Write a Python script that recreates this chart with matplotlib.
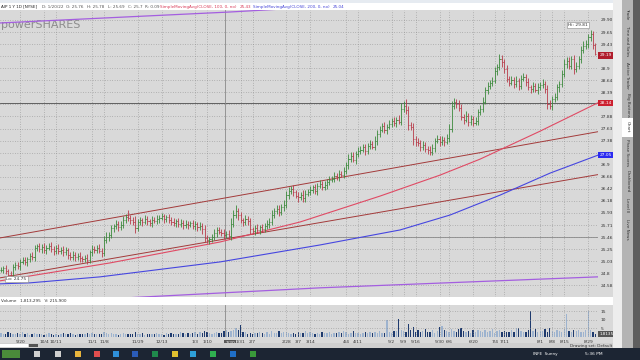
import numpy as np
import matplotlib.pyplot as plt
from matplotlib.patches import Rectangle
from matplotlib.collections import LineCollection

W, H = 640, 360

# ---- daily bars (9/8/21 .. 9/1/22) ----
closes = [
    24.89, 24.92, 24.86, 24.78, 24.76, 24.95, 24.98, 24.97, 25.05, 25.08,
    25.04, 25.10, 25.17, 25.15, 25.33, 25.36, 25.30, 25.34, 25.28, 25.33,
    25.37, 25.31, 25.27, 25.32, 25.26, 25.29, 25.24, 25.28, 25.18, 25.15,
    25.19, 25.14, 25.16, 25.12, 25.10, 25.13, 25.09, 25.24, 25.31, 25.28,
    25.33, 25.27, 25.23, 25.48, 25.55, 25.58, 25.72, 25.76, 25.80, 25.74,
    25.79, 25.88, 25.95, 25.93, 25.89, 25.85, 25.72, 25.84, 25.88, 25.85,
    25.90, 25.86, 25.83, 25.89, 25.87, 25.90, 25.93, 25.96, 25.91, 25.94,
    25.89, 25.84, 25.82, 25.86, 25.80, 25.83, 25.78, 25.81, 25.79, 25.82,
    25.76, 25.80, 25.74, 25.77, 25.70, 25.52, 25.48, 25.50, 25.55, 25.62,
    25.68, 25.65, 25.63, 25.58, 25.61, 25.56, 25.80, 26.00, 26.08, 25.98,
    25.88, 25.84, 25.90, 25.86, 25.70, 25.66, 25.72, 25.68, 25.74, 25.71,
    25.76, 25.80, 25.85, 26.00, 26.08, 26.12, 26.05, 26.15, 26.20, 26.40,
    26.48, 26.52, 26.45, 26.38, 26.35, 26.40, 26.33, 26.42, 26.46, 26.50,
    26.55, 26.48, 26.58, 26.62, 26.56, 26.60, 26.66, 26.70, 26.72, 26.78,
    26.75, 26.82, 26.80, 26.88, 27.00, 27.12, 27.18, 27.10, 27.22, 27.28,
    27.30, 27.35, 27.28, 27.38, 27.42, 27.36, 27.48, 27.62, 27.70, 27.78,
    27.70, 27.76, 27.82, 27.88, 27.84, 27.90, 27.86, 28.12, 28.18, 28.10,
    27.80, 27.76, 27.52, 27.45, 27.44, 27.36, 27.40, 27.32, 27.30, 27.26,
    27.34, 27.48, 27.52, 27.45, 27.50, 27.46, 27.54, 27.72, 28.18, 28.26,
    28.22, 28.14, 27.96, 27.90, 27.98, 27.86, 27.92, 27.84, 27.88, 28.05,
    28.12, 28.26, 28.50, 28.58, 28.64, 28.68, 28.88, 28.96, 29.12, 29.05,
    28.92, 28.72, 28.64, 28.70, 28.62, 28.68, 28.58, 28.72, 28.76, 28.66,
    28.55, 28.52, 28.58, 28.50, 28.56, 28.60, 28.62, 28.52, 28.22, 28.18,
    28.32, 28.36, 28.55, 28.62, 28.82, 29.02, 29.08, 28.98, 29.12, 28.92,
    28.98, 29.12, 29.30, 29.38, 29.42, 29.55, 29.62, 29.40, 29.22,
]
# wick above / below the open-close body, in cents
wick_hi = [
    6, 5, 7, 4, 8, 5, 6, 7, 5, 6, 7, 5, 6, 8, 6, 5, 7, 6, 8, 5,
    6, 7, 5, 6, 8, 5, 7, 6, 5, 6, 7, 5, 6, 8, 5, 6, 7, 5, 8, 6,
    5, 7, 6, 8, 9, 6, 7, 5, 8, 6, 7, 9, 6, 15, 7, 5, 12, 6, 7, 5,
    8, 6, 5, 7, 6, 8, 5, 7, 6, 5, 7, 6, 8, 5, 6, 7, 5, 8, 6, 5,
    7, 6, 5, 8, 6, 9, 7, 5, 6, 8, 6, 7, 5, 8, 6, 7, 12, 9, 11, 6,
    7, 5, 8, 6, 7, 5, 6, 8, 5, 7, 6, 8, 7, 9, 6, 8, 7, 6, 9, 8,
    7, 6, 8, 5, 7, 6, 9, 7, 6, 8, 5, 7, 6, 8, 6, 7, 5, 8, 6, 7,
    6, 8, 5, 7, 6, 9, 7, 8, 6, 7, 8, 6, 7, 5, 8, 6, 9, 7, 8, 6,
    7, 5, 8, 6, 7, 5, 9, 12, 10, 14, 8, 6, 7, 5, 8, 6, 7, 5, 6, 8,
    7, 5, 8, 6, 7, 5, 8, 10, 9, 8, 6, 7, 8, 5, 9, 6, 7, 5, 8, 6,
    7, 9, 6, 8, 5, 7, 8, 6, 10, 7, 6, 8, 5, 7, 6, 9, 5, 8, 7, 6,
    7, 5, 8, 6, 7, 5, 9, 6, 8, 7, 6, 8, 7, 5, 8, 9, 7, 8, 6, 7,
    8, 6, 7, 9, 8, 7, 8, 6, 3,
]
wick_lo = [
    5, 7, 6, 8, 6, 5, 7, 6, 8, 5, 6, 7, 5, 6, 9, 6, 5, 8, 6, 7,
    5, 6, 8, 7, 5, 6, 7, 5, 8, 6, 6, 8, 5, 7, 6, 5, 8, 6, 7, 5,
    6, 5, 8, 7, 6, 9, 5, 7, 6, 8, 6, 7, 5, 6, 8, 7, 10, 5, 6, 8,
    5, 7, 6, 8, 5, 6, 7, 5, 8, 6, 7, 5, 6, 8, 6, 5, 7, 6, 8, 5,
    6, 8, 7, 5, 9, 8, 6, 7, 5, 6, 7, 5, 6, 8, 6, 5, 7, 6, 8, 9,
    6, 8, 5, 7, 9, 6, 7, 5, 8, 6, 7, 5, 8, 6, 7, 6, 8, 5, 7, 6,
    8, 6, 7, 5, 9, 6, 7, 8, 5, 6, 7, 6, 8, 5, 7, 6, 8, 6, 5, 7,
    6, 8, 5, 7, 6, 9, 7, 5, 8, 6, 7, 5, 8, 6, 7, 5, 6, 8, 7, 5,
    6, 8, 5, 7, 6, 8, 5, 7, 6, 9, 10, 7, 12, 8, 6, 9, 7, 6, 8, 7,
    6, 8, 5, 7, 6, 8, 5, 9, 7, 6, 8, 6, 7, 9, 5, 8, 6, 7, 5, 8,
    6, 7, 5, 8, 6, 7, 5, 8, 6, 9, 8, 6, 7, 5, 8, 6, 9, 7, 5, 8,
    6, 8, 7, 5, 9, 6, 7, 8, 10, 7, 8, 6, 7, 9, 6, 7, 8, 6, 7, 10,
    7, 6, 8, 7, 6, 8, 7, 9, 2,
]
# volume, in hundred-thousands
volume = [
    2.5, 1.8, 2.0, 3.2, 2.4, 1.6, 1.9, 2.2, 1.5, 2.8,
    1.7, 2.1, 1.4, 1.9, 2.6, 1.8, 1.5, 2.0, 1.3, 1.7,
    2.3, 1.6, 1.4, 1.9, 1.2, 1.8, 2.1, 1.5, 1.7, 2.4,
    1.6, 1.3, 1.8, 2.0, 1.5, 1.7, 2.2, 1.9, 2.6, 1.8,
    1.5, 2.0, 1.7, 2.9, 2.4, 1.8, 2.2, 1.6, 1.9, 1.4,
    1.7, 2.3, 2.0, 1.6, 1.8, 1.5, 2.7, 1.9, 1.6, 2.1,
    1.4, 1.8, 2.0, 1.5, 1.7, 2.3, 1.6, 1.9, 1.4, 2.2,
    1.8, 2.5, 1.6, 2.0, 1.7, 2.9, 2.2, 1.8, 2.4, 1.9,
    2.6, 3.1, 2.0, 2.8, 2.3, 3.4, 2.7, 2.1, 1.8, 2.5,
    3.0, 2.2, 2.6, 3.5, 4.0, 2.8, 3.8, 4.1, 5.2, 4.1,
    6.8, 3.2, 2.9, 2.0, 2.4, 1.8, 2.6, 2.1, 3.0, 2.3,
    2.0, 2.7, 1.9, 3.3, 2.5, 2.2, 3.6, 2.4, 2.8, 3.1,
    2.6, 2.0, 2.4, 1.8, 2.9, 2.2, 2.5, 3.4, 2.1, 2.7,
    2.3, 1.9, 2.6, 2.0, 3.0, 2.4, 2.1, 2.8, 1.9, 2.5,
    2.2, 2.9, 2.4, 3.3, 2.7, 2.0, 2.5, 3.8, 2.3, 2.6,
    2.0, 2.4, 2.8, 2.2, 3.1, 2.5, 2.9, 2.3, 3.4, 2.6,
    2.1, 10.2, 3.0, 2.4, 3.3, 3.6, 10.5, 4.2, 3.5, 2.8,
    7.5, 3.9, 5.6, 3.2, 4.4, 2.8, 3.6, 4.8, 3.1, 2.7,
    3.9, 2.5, 3.3, 5.8, 6.2, 4.0, 3.4, 2.9, 4.6, 3.8,
    2.7, 4.9, 5.5, 3.6, 2.8, 3.3, 2.5, 3.9, 3.0, 4.2,
    3.5, 2.9, 4.4, 3.1, 3.8, 4.7, 2.6, 3.3, 4.0, 2.9,
    3.6, 3.0, 2.7, 4.3, 3.2, 5.0, 5.4, 3.7, 2.8, 3.1,
    4.1, 15.0, 3.4, 4.5, 2.9, 3.8, 3.3, 4.6, 3.0, 5.1,
    3.7, 2.8, 4.2, 3.5, 3.0, 4.8, 13.8, 3.6, 2.9, 4.0,
    3.4, 4.4, 3.1, 2.8, 3.9, 15.2, 4.2, 3.0, 1.8,
]

week_idx = [8, 18, 23, 38, 43, 57, 67, 81, 86, 100, 105, 119, 124, 129, 144,
            149, 163, 168, 173, 183, 187, 197, 206, 210, 225, 230, 235, 245]
week_lbl = ['9/20', '10/4', '10/11', '11/1', '11/8', '11/29', '12/13', '1/3',
            '1/10', '1/31', '2/7', '2/28', '3/7', '3/14', '4/4', '4/11', '5/2',
            '5/9', '5/16', '5/30', '6/6', '6/20', '7/4', '7/11', '8/1', '8/8',
            '8/15', '8/29']

# scale labels; blanks sit under the value bubbles
price_lbl = ['29.90', '29.65', '29.43', '', '28.9', '28.64', '28.39', '',
             '27.88', '27.63', '27.38', '', '26.9', '26.66', '26.42', '26.18',
             '25.93', '25.71', '25.46', '25.25', '25.03', '24.8', '24.58']

# study lines (bar index, price)
sma100_x = [-0.4, 45.6, 91.5, 124.8, 158.2, 183.2, 199.9, 224.9, 249.1]
sma100_y = [24.67, 25.03, 25.45, 25.85, 26.37, 26.79, 27.11, 27.67, 28.24]
sma200_x = [-0.4, 12.2, 41.4, 91.5, 133.2, 166.5, 187.4, 208.3, 229.1, 249.1]
sma200_y = [24.61, 24.63, 24.75, 25.05, 25.39, 25.69, 25.99, 26.39, 26.83, 27.19]
purple_hi_x = [-0.4, 95.6, 124.8]
purple_hi_y = [29.84, 30.06, 30.14]
purple_lo_x = [-0.4, 61.0, 133.2, 249.1]
purple_lo_y = [24.20, 24.35, 24.53, 24.75]
trend_up_x, trend_up_y = [-0.4, 249.1], [25.53, 27.66]
trend_lo_x, trend_lo_y = [-0.4, 249.1], [24.73, 26.80]
level_line = 28.236
cross_idx, cross_price = 93.5, 25.55

# ---- figure ----
fig = plt.figure(figsize=(6.4, 3.6), dpi=100, facecolor='#d9d9d9')


def frect(x, y, w, h, color, z=0):
    fig.patches.append(Rectangle((x / W, 1 - (y + h) / H), w / W, h / H,
                                 transform=fig.transFigure, color=color,
                                 zorder=z, lw=0))


def ftext(x, y, s, **kw):
    fig.text(x / W, 1 - y / H, s, **kw)


def pane(x0, y0, x1, y1):
    a = fig.add_axes([x0 / W, 1 - y1 / H, (x1 - x0) / W, (y1 - y0) / H])
    a.set_facecolor('#d9d9d9')
    for s in a.spines.values():
        s.set_visible(False)
    return a


n = len(closes)
idx = np.arange(n)
c = np.array(closes)
o = np.r_[c[0], c[:-1]]           # open tick at prior close
hi = np.maximum(o, c) + np.array(wick_hi) / 100
lo = np.minimum(o, c) - np.array(wick_lo) / 100
up = c >= o
UPC, DNC = '#3c8a3c', '#b83c4a'

ax = pane(0, 10, 598, 297)
ax.set_xlim(-0.4, 249.1)
ax.set_ylim(24.346, 30.10)
ax.set_xticks(week_idx)
ax.set_xticklabels([])
ax.set_yticks(np.linspace(29.90, 24.58, len(price_lbl)))
ax.set_yticklabels(price_lbl)
ax.yaxis.tick_right()
ax.tick_params(length=0, labelsize=3.2, labelcolor='#333333', pad=2)
ax.grid(True, ls=(0, (1, 2.5)), color='#8c8c8c', lw=0.5)

segs, cols = [], []
for i in range(n):
    col = UPC if up[i] else DNC
    segs += [[(i, lo[i]), (i, hi[i])], [(i - 0.45, o[i]), (i, o[i])],
             [(i, c[i]), (i + 0.45, c[i])]]
    cols += [col] * 3
ax.add_collection(LineCollection(segs, colors=cols, lw=0.6, zorder=4))

ax.plot(purple_hi_x, purple_hi_y, color='#a45ee0', lw=0.9, zorder=3)
ax.plot(purple_lo_x, purple_lo_y, color='#a45ee0', lw=0.9, zorder=3)
ax.plot(trend_up_x, trend_up_y, color='#a33a3a', lw=0.7, zorder=3)
ax.plot(trend_lo_x, trend_lo_y, color='#a33a3a', lw=0.7, zorder=3)
ax.plot(sma100_x, sma100_y, color='#e04a64', lw=0.8, zorder=3)
ax.plot(sma200_x, sma200_y, color='#4646e0', lw=0.8, zorder=3)
ax.axhline(level_line, color='#4d4d4d', lw=0.6, zorder=2)
ax.axhline(cross_price, color='#8a8a8a', lw=0.6, zorder=2)
ax.axvline(cross_idx, color='#8a8a8a', lw=0.6, zorder=2)

# value bubbles on the price scale
for val, txt, bg in [(29.19, '29.19', '#b01c2c'), (level_line, '28.14', '#cc1f2f'),
                     (27.19, '27.05', '#2b2bf0')]:
    ax.text(1.002, val, txt, transform=ax.get_yaxis_transform(), fontsize=3.2,
            color='white', va='center', ha='left', zorder=6,
            bbox=dict(boxstyle='square,pad=0.25', fc=bg, ec='none'))

bb = dict(boxstyle='square,pad=0.25', fc='white', ec='#888888', lw=0.4)
ax.annotate('Hi: 29.81', xy=(246, hi[246]), xytext=(-2, 2), textcoords='offset points',
            ha='right', va='bottom', fontsize=3.2, color='#333333', bbox=bb, zorder=6)
ax.annotate('Lo: 24.75', xy=(4, lo[4]), xytext=(-3, 0), textcoords='offset points',
            ha='left', va='center', fontsize=3.2, color='#333333', bbox=bb, zorder=6)

ax.text(0.002, 0.965, 'powerSHARES', transform=ax.transAxes, fontsize=8,
        color='#8d8d8d', va='top', ha='left', zorder=1)

# ---- volume pane ----
vax = pane(0, 305, 598, 337)
vax.set_xlim(-0.4, 249.1)
vax.set_ylim(0, 18.8)
vcol = ['#9db3cf' if u else '#1e3a6e' for u in up]
vax.bar(idx, volume, width=0.55, color=vcol, lw=0)
vax.axvline(cross_idx, color='#8a8a8a', lw=0.6)
vax.set_xticks(week_idx)
vax.set_xticklabels(week_lbl)
vax.set_yticks([5, 10, 15])
vax.set_yticklabels(['5', '10', '15'])
vax.yaxis.tick_right()
vax.tick_params(length=0, labelsize=3.2, labelcolor='#333333', pad=2)
vax.grid(True, ls=(0, (1, 2.5)), color='#8c8c8c', lw=0.5)
vax.text(1.002, 1.8, '1.81355', transform=vax.get_yaxis_transform(), fontsize=3.0,
         color='white', va='center', ha='left',
         bbox=dict(boxstyle='square,pad=0.25', fc='#555555', ec='none'))
vax.text(cross_idx, -0.12, '1/20', transform=vax.get_xaxis_transform(), fontsize=3.2,
         color='white', va='top', ha='left',
         bbox=dict(boxstyle='square,pad=0.3', fc='#5a5a5a', ec='none'))

# ---- window chrome ----
frect(0, 0, 640, 3, '#e6ebf1')
frect(0, 3, 613, 7, 'white')
frect(0, 297, 613, 8, 'white')
frect(613, 0, 10, 348, '#ededed')
frect(622, 0, 11, 348, '#b4b4b4')
frect(622, 118, 11, 19, 'white')
frect(633, 0, 7, 348, '#5e5e5e')
frect(0, 343, 613, 5, '#cfcfcf')
frect(0, 344, 28, 3, 'white')
frect(29, 344, 9, 3, '#555555')
frect(0, 348, 640, 12, '#1c2533')

hdr = [(1, 'AIP 1 Y 1D [NYSE]', '#222222'), (42, 'D: 1/20/22', '#555555'),
       (66, 'O: 25.76', '#555555'), (87, 'H: 25.78', '#555555'),
       (108, 'L: 25.69', '#555555'), (128, 'C: 25.7', '#555555'),
       (145, 'R: 0.09', '#555555'),
       (160, 'SimpleMovingAvg(CLOSE, 100, 0, no)', '#d83a58'), (240, '25.43', '#d83a58'),
       (253, 'SimpleMovingAvg(CLOSE, 200, 0, no)', '#4646d8'), (333, '25.04', '#4646d8')]
for x, s, col in hdr:
    ftext(x, 6.8, s, fontsize=3.0, color=col, va='center', ha='left')

ftext(1, 301, 'Volume   1,813,295   V: 215,900', fontsize=3.0, color='#333333',
      va='center', ha='left')
ftext(612, 345.5, 'Drawing set: Default', fontsize=3.0, color='#333333',
      va='center', ha='right')

tabs = [(14, 'Trade'), (41, 'Time and Sales'), (75, 'Active Trader'),
        (105, 'Big Buttons'), (127, 'Chart'), (153, 'Phase Scores'),
        (181, 'Dashboard'), (205, 'Level II'), (229, 'Live News')]
for y, s in tabs:
    ftext(627.5, y, s, fontsize=3.0, color='#333333', rotation=270,
          va='center', ha='center')

# taskbar icons
for x, col in [(37, '#d0d0d0'), (58, '#d0d0d0'), (78, '#e8b43c'), (97, '#e04e4e'),
               (116, '#2f8fd8'), (135, '#2b5cb8'), (155, '#1f8a4c'), (175, '#e0c030'),
               (193, '#2ea0d8'), (213, '#30b050'), (233, '#1f6fc8'), (253, '#3a9a3a')]:
    frect(x - 3, 351, 6, 6, col, z=1)
frect(2, 350, 18, 8, '#4a8a3a', z=1)
ftext(594, 354, '5:36 PM', fontsize=3.2, color='white', va='center', ha='center')
ftext(545, 354, 'INFE  Sunny', fontsize=3.0, color='white', va='center', ha='center')
frect(621, 350, 6, 7, '#1c2533', z=1)

fig.savefig('out.png', dpi=100, facecolor=fig.get_facecolor())
